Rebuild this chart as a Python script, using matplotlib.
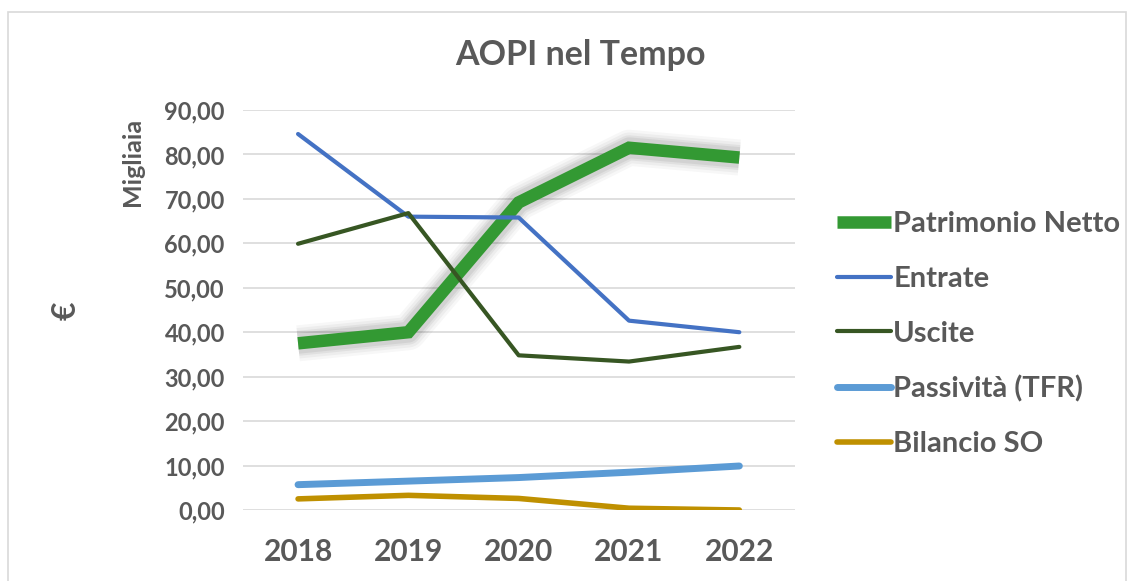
import matplotlib

matplotlib.use("Agg")
import matplotlib.pyplot as plt
from matplotlib.patches import Rectangle

years = ["2018", "2019", "2020", "2021", "2022"]
patrimonio = [37.5, 40.0, 69.2, 81.5, 79.3]
entrate = [84.6, 66.0, 65.8, 42.6, 40.0]
uscite = [59.9, 66.8, 34.8, 33.4, 36.7]
passivita = [5.7, 6.5, 7.3, 8.5, 9.9]
bilancio = [2.5, 3.3, 2.6, 0.4, 0.0]

labels = ["Patrimonio Netto", "Entrate", "Uscite", "Passività (TFR)", "Bilancio SO"]
colors = ["#339933", "#4472C4", "#375623", "#5B9BD5", "#BF9000"]

TXT = "#595959"
plt.rcParams["font.family"] = ["Lato", "DejaVu Sans"]
plt.rcParams["font.weight"] = "bold"

fig = plt.figure(figsize=(11.35, 5.81), dpi=100)
ax = fig.add_axes([0.214, 0.1222, 0.486, 0.6885])

x = list(range(len(years)))

# ombra sfumata sotto la serie principale
for w, a in [(26, 0.03), (22, 0.04), (18, 0.05), (15, 0.06)]:
    ax.plot(x, patrimonio, color="black", lw=w, alpha=a, solid_capstyle="butt",
            solid_joinstyle="round", zorder=1)
ax.plot(x, patrimonio, color=colors[0], lw=9, solid_capstyle="butt",
        solid_joinstyle="miter", label=labels[0], zorder=2)
ax.plot(x, entrate, color=colors[1], lw=3.0, solid_capstyle="round", label=labels[1], zorder=3)
ax.plot(x, uscite, color=colors[2], lw=3.0, solid_capstyle="round", label=labels[2], zorder=3)
ax.plot(x, passivita, color=colors[3], lw=5.0, solid_capstyle="round", label=labels[3], zorder=3)
ax.plot(x, bilancio, color=colors[4], lw=4.0, solid_capstyle="round", label=labels[4], zorder=3)

ax.set_xlim(-0.5, len(years) - 0.5)
ax.set_ylim(0, 90)
ax.set_yticks(range(0, 91, 10))
ax.set_yticklabels([f"{v},00" for v in range(0, 91, 10)], fontsize=17, color=TXT)
ax.set_xticks(x)
ax.set_xticklabels(years, fontsize=21.5, color=TXT)
ax.tick_params(length=0)
ax.tick_params(axis="y", pad=13)
ax.tick_params(axis="x", pad=20)
ax.grid(axis="y", color="#d9d9d9", lw=1.2)
ax.set_axisbelow(True)
for s in ax.spines.values():
    s.set_visible(False)

fig.text(0.511, 0.905, "AOPI nel Tempo", ha="center", va="center", fontsize=24.5, color=TXT)
fig.text(0.117, 0.721, "Migliaia", rotation=90, ha="center", va="center", fontsize=18, color=TXT)
fig.text(0.058, 0.465, "€", rotation=90, ha="center", va="center", fontsize=23, color=TXT)

leg = ax.legend(loc="upper left", bbox_to_anchor=(1.056, 0.777), frameon=False,
                fontsize=21, handlelength=1.85, handletextpad=0.08, labelspacing=0.99,
                borderaxespad=0)
for t in leg.get_texts():
    t.set_color(TXT)

fig.patches.append(Rectangle((0.007, -0.05), 0.985, 1.03, transform=fig.transFigure,
                             fill=False, edgecolor="#d9d9d9", lw=1.2))

fig.savefig("out.png", dpi=100)
